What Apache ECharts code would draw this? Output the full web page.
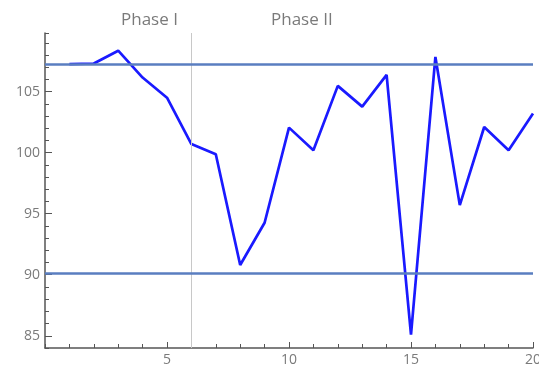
<!DOCTYPE html>
<html><head><meta charset="utf-8">
<script src="https://cdn.jsdelivr.net/npm/echarts@6/dist/echarts.min.js"></script>
<style>html,body{margin:0;padding:0;background:#fff}#c{width:539px;height:366px}</style>
</head><body><div id="c"></div>
<script>
var xValues = [1,2,3,4,5,6,7,8,9,10,11,12,13,14,15,16,17,18,19,20];
var yValues = [107.25,107.3,108.35,106.15,104.5,100.7,99.87,90.8,94.26,102.05,100.2,105.47,103.77,106.37,85.1,107.84,95.7,102.1,100.2,103.2];
var upperLimit = 107.25;
var lowerLimit = 90.1;
var phaseBoundary = 6;
var xMajorTicks = [5,10,15,20];
var yMajorTicks = [85,90,95,100,105];
var phaseLabels = ['Phase I','Phase II'];

var chart = echarts.init(document.getElementById('c'), null, {renderer:'canvas'});
var labelColor = '#7a7a7a', axisColor = '#555';
var font = 'Open Sans';
chart.setOption({
  animation:false,
  grid: {left:45, right:6, top:33, bottom:18, containLabel:false, outerBoundsMode:'none'},
  xAxis: [
    {type:'value', min:0, max:20, position:'bottom',
     axisLine:{show:true, onZero:false, lineStyle:{color:axisColor, width:1.5}},
     axisTick:{show:true, customValues:xMajorTicks, length:6, inside:true, lineStyle:{color:axisColor, width:1}},
     axisLabel:{customValues:xMajorTicks, color:labelColor, fontSize:14, fontFamily:font, margin:5},
     splitLine:{show:false}},
    {type:'value', min:0, max:20, interval:1, position:'bottom', offset:0,
     axisLine:{show:false},
     axisTick:{show:true, length:4, inside:true, lineStyle:{color:axisColor, width:1}},
     axisLabel:{show:false}, splitLine:{show:false}}
  ],
  yAxis: [
    {type:'value', min:84, max:109.8, position:'left',
     axisLine:{show:true, onZero:false, lineStyle:{color:axisColor, width:1.5}},
     axisTick:{show:true, customValues:yMajorTicks, length:7, inside:true, lineStyle:{color:axisColor, width:1}},
     axisLabel:{customValues:yMajorTicks, color:labelColor, fontSize:14, fontFamily:font, margin:5},
     splitLine:{show:false}},
    {type:'value', min:84, max:109.8, interval:1, position:'left', offset:0,
     axisLine:{show:false},
     axisTick:{show:true, length:4, inside:true, lineStyle:{color:axisColor, width:1}},
     axisLabel:{show:false}, splitLine:{show:false}}
  ],
  graphic: [
    {type:'text', left:121, top:12, style:{text:phaseLabels[0], fill:labelColor, font:'17px "Open Sans"'}},
    {type:'text', left:271, top:12, style:{text:phaseLabels[1], fill:labelColor, font:'17px "Open Sans"'}}
  ],
  series: [
    {type:'line', xAxisIndex:0, yAxisIndex:0, data: xValues.map(function(x,i){return [x, yValues[i]];}),
     showSymbol:false, lineStyle:{color:'#1a1aff', width:2.7}, itemStyle:{color:'#1a1aff'},
     markLine:{silent:true, symbol:['none','none'], label:{show:false},
       data:[
         {xAxis:phaseBoundary, lineStyle:{color:'#c8c8c8', width:1, type:'solid'}},
         {yAxis:upperLimit, lineStyle:{color:'#5a7ec0', width:2.5, type:'solid'}},
         {yAxis:lowerLimit, lineStyle:{color:'#5a7ec0', width:2.5, type:'solid'}}
       ]}}
  ]
});
</script></body></html>
